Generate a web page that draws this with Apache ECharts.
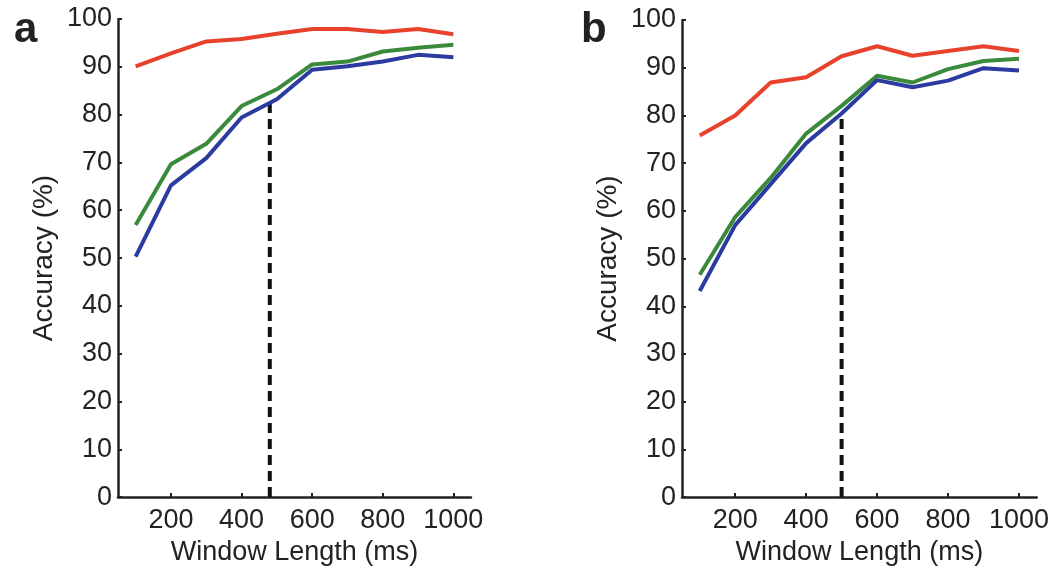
<!DOCTYPE html>
<html><head><meta charset="utf-8">
<script src="https://cdn.jsdelivr.net/npm/echarts@6/dist/echarts.min.js"></script>
<style>html,body{margin:0;padding:0;background:#fff}#c{width:1052px;height:571px}</style>
</head><body><div id="c"></div>
<script>
const windowMs = [100,200,300,400,500,600,700,800,900,1000];
const xTicks = [200,400,600,800,1000];
const yTicks = [0,10,20,30,40,50,60,70,80,90,100];
// Panel a
const aRed   = [90.1,92.8,95.3,95.8,96.9,97.9,97.9,97.3,97.9,96.8];
const aGreen = [56.9,69.6,73.9,81.8,85.3,90.5,91.1,93.2,94.0,94.6];
const aBlue  = [50.3,65.2,70.9,79.4,83.2,89.4,90.1,91.1,92.5,92.0];
const aCut   = [480, 83.2];
// Panel b
const bRed   = [75.8,80.0,86.9,88.0,92.4,94.5,92.5,93.5,94.5,93.5];
const bGreen = [46.6,58.7,66.9,76.2,82.0,88.3,86.9,89.7,91.4,91.9];
const bBlue  = [43.2,57.0,65.6,74.2,80.4,87.4,85.9,87.3,89.9,89.4];
const bCut   = [500, 80.0];

const RED='#e8412c', GREEN='#3b8a3c', BLUE='#2b3ba0';
const FONT='"Liberation Sans", Arial, sans-serif';

function xAxis(i){return {type:'value',gridIndex:i,min:50,max:1050,
  name:'Window Length (ms)',nameLocation:'middle',nameGap:40,
  nameTextStyle:{fontFamily:FONT,fontSize:27,color:'#222'},
  axisLine:{lineStyle:{color:'#222',width:2.5}},
  axisTick:{inside:true,length:4,customValues:xTicks,lineStyle:{color:'#222',width:2}},
  axisLabel:{customValues:xTicks,formatter:v=>String(v),fontFamily:FONT,fontSize:27,color:'#222',margin:10},
  splitLine:{show:false}};}
function yAxis(i){return {type:'value',gridIndex:i,min:0,max:100,interval:10,
  name:'Accuracy (%)',nameLocation:'middle',nameGap:60,
  nameTextStyle:{fontFamily:FONT,fontSize:28,color:'#222'},
  axisLine:{show:true,lineStyle:{color:'#222',width:2.5}},
  axisTick:{show:true,inside:true,length:4,lineStyle:{color:'#222',width:2}},
  axisLabel:{fontFamily:FONT,fontSize:27,color:'#222',margin:6},
  splitLine:{show:false}};}
function pts(vals){return windowMs.map((x,k)=>[x,vals[k]]);}
function line(i,vals,color){return {type:'line',xAxisIndex:i,yAxisIndex:i,data:pts(vals),
  showSymbol:false,lineStyle:{color:color,width:4},z:3};}
function cut(i,c){return {type:'line',xAxisIndex:i,yAxisIndex:i,data:[[c[0],0],[c[0],c[1]]],
  showSymbol:false,lineStyle:{color:'#111',width:4,type:[10,6]},z:2};}

const chart = echarts.init(document.getElementById('c'),null,{renderer:'canvas'});
chart.setOption({
  backgroundColor:'#fff',
  animation:false,
  title:[
    {text:'a',left:9,top:4,textStyle:{fontFamily:FONT,fontSize:42,fontWeight:'bold',color:'#222'}},
    {text:'b',left:576,top:4,textStyle:{fontFamily:FONT,fontSize:42,fontWeight:'bold',color:'#222'}}
  ],
  grid:[
    {left:118,top:19,width:353,height:482},
    {left:682,top:20,width:355,height:484}
  ],
  xAxis:[xAxis(0),xAxis(1)],
  yAxis:[yAxis(0),yAxis(1)],
  series:[
    cut(0,aCut), line(0,aRed,RED), line(0,aGreen,GREEN), line(0,aBlue,BLUE),
    cut(1,bCut), line(1,bRed,RED), line(1,bGreen,GREEN), line(1,bBlue,BLUE)
  ]
});
</script></body></html>
